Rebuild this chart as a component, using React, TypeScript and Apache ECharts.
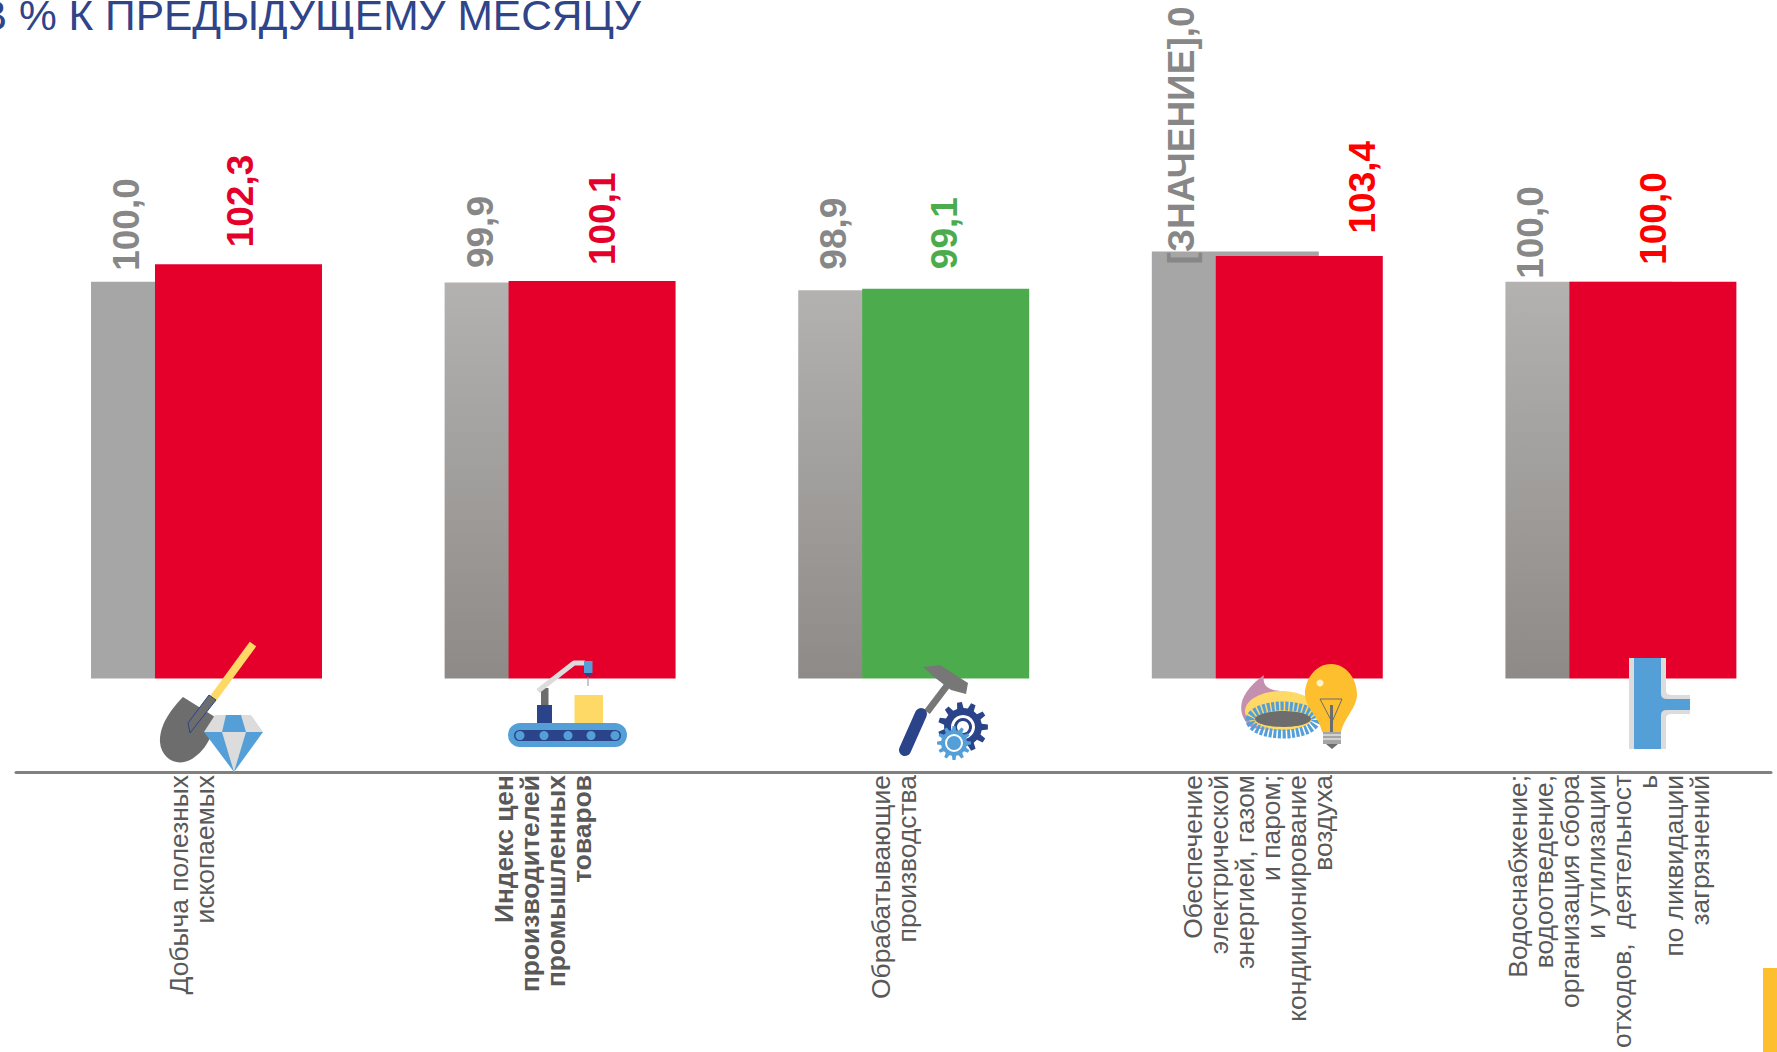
import React, { useEffect, useRef } from "react";
import * as echarts from "echarts";

const categories = [
  "Добыча полезных\nископаемых",
  "Индекс цен\nпроизводителей\nпромышленных\nтоваров",
  "Обрабатывающие\nпроизводства",
  "Обеспечение\nэлектрической\nэнергией, газом\nи паром;\nкондиционирование\nвоздуха",
  "Водоснабжение;\nводоотведение,\nорганизация сбора\nи утилизации\nотходов,  деятельност\nь\nпо ликвидации\nзагрязнений",
];
const previousValues = [100.0, 99.9, 98.9, 104.0, 100.0];
const currentValues = [102.3, 100.1, 99.1, 103.4, 100.0];
const previousLabels = ["100,0", "99,9", "98,9", "[ЗНАЧЕНИЕ],0", "100,0"];
const currentLabels = ["102,3", "100,1", "99,1", "103,4", "100,0"];
const titleText = "В % К ПРЕДЫДУЩЕМУ МЕСЯЦУ";

// screen-space label shifts [right, down]; the label's own offset is given in its rotated frame
const GRAY_OFFSET: number[][] = [[-48.5, -11], [-48, -14.5], [-48.5, -20.5], [-53.5, 13], [-58.5, -3]];
const CUR_OFFSET: number[][] = [[2.5, -17], [10, -16], [-1, -19.5], [63, -22.5], [1, -17]];
const toLocal = (o: number[]) => [-o[1], o[0]];
const CUR_BAR = ["#e4002b", "#e4002b", "#4cac4d", "#e4002b", "#e4002b"];
const CUR_LABEL = ["#e4002b", "#e4002b", "#4cac4d", "#ff0000", "#ff0000"];
const GRADIENT_BAR = [false, true, true, false, true];
const FONT = '"Liberation Sans", Arial, sans-serif';

const NAVY = "#2a4389";
const BLUE = "#559fd9";
const YEL = "#ffd966";
const GREY = "#6d6d6d";
const LIGHT = "#dddcdc";

const bladePath = "M183 697 L215 717 C214 735 205 752 190 760 C176 767 161 758 160 742 C159 725 172 708 183 697 Z";
const flamePath = "M1264 675 C1262 686 1268 690 1280 691 C1295 692 1302 698 1312 705 L1270 730 L1252 728 C1236 715 1236 695 1264 675 Z";
const teePath = "M1629 658 H1666 V691 Q1666 695 1672 695 H1690 V714 H1672 Q1666 714 1666 718 V749 H1629 Z";
const teeInner = "M1634 658 H1661 V694 Q1661 699 1667 699 H1690 V710 H1667 Q1661 710 1661 715 V749 H1634 Z";
const bulbPath = "M1331 664 C1347 664 1357 680 1357 694 C1357 708 1345 716 1341 732 H1322 C1319 716 1305 708 1305 694 C1305 680 1315 664 1331 664 Z";

echarts.graphic.registerShape("blade", echarts.graphic.extendPath(bladePath, {}));
echarts.graphic.registerShape("flame", echarts.graphic.extendPath(flamePath, {}));
echarts.graphic.registerShape("tee", echarts.graphic.extendPath(teePath, {}));
echarts.graphic.registerShape("teeInner", echarts.graphic.extendPath(teeInner, {}));
echarts.graphic.registerShape("bulb", echarts.graphic.extendPath(bulbPath, {}));

function gear(cx: number, cy: number, rOut: number, rIn: number, teeth: number) {
  const pts: number[][] = [];
  for (let i = 0; i < teeth; i++) {
    const step = (Math.PI * 2) / teeth;
    const a = i * step;
    [[-0.3, rIn], [-0.17, rOut], [0.17, rOut], [0.3, rIn]].forEach(([k, r]) => {
      pts.push([cx + r * Math.cos(a + k * step), cy + r * Math.sin(a + k * step)]);
    });
  }
  return pts;
}
const poly = (points: number[][], fill: string, extra: any = {}) => ({ type: "polygon", z: 20, shape: { points }, style: { fill, ...extra } });
const line = (p: number[][], stroke: string, lineWidth: number, cap = "butt") => ({ type: "polyline", z: 20, shape: { points: p }, style: { stroke, lineWidth, fill: "none", lineCap: cap, lineJoin: "round" } });
const rect = (x: number, y: number, w: number, h: number, fill: string, r = 0) => ({ type: "rect", z: 20, shape: { x, y, width: w, height: h, r }, style: { fill } });
const circ = (cx: number, cy: number, r: number, fill: string) => ({ type: "circle", z: 20, shape: { cx, cy, r }, style: { fill } });
const ell = (cx: number, cy: number, rx: number, ry: number, style: any) => ({ type: "ellipse", z: 20, shape: { cx, cy, rx, ry }, style });

const icons: any[] = [
  // shovel and diamond
  line([[253, 644], [212, 700]], YEL, 8),
  { type: "blade", z: 20, x: 0, y: 0, style: { fill: GREY } },
  poly([[209, 695], [216, 700], [190, 733], [188, 723]], GREY, { stroke: NAVY, lineWidth: 1 }),
  poly([[215, 715], [251, 715], [263, 732], [204, 732]], LIGHT),
  poly([[226, 715], [241, 715], [246, 732], [222, 732]], BLUE),
  poly([[204, 732], [263, 732], [234, 772]], BLUE),
  poly([[222, 732], [246, 732], [234, 772]], LIGHT),
  // conveyor
  rect(508, 723, 119, 24, BLUE, 12),
  rect(514, 730, 107, 11, NAVY, 5.5),
  ...[520, 544, 568, 591, 615].map((x) => circ(x, 735.5, 4.5, BLUE)),
  rect(574.5, 695, 28.5, 28, YEL),
  rect(537, 705, 15, 18, NAVY),
  rect(541, 688, 7.5, 17, GREY),
  line([[538, 691], [574, 663], [585, 663]], LIGHT, 5),
  rect(584, 661, 8.5, 12, BLUE),
  poly([[584, 673], [592.5, 673], [588, 677]], NAVY),
  line([[588, 677], [588, 686]], "#909090", 1),
  // hammer and gears
  line([[949, 683], [927, 712]], "#777777", 7),
  line([[921, 714], [905, 750]], NAVY, 12, "round"),
  poly([[923, 667], [940, 665], [968, 683], [966, 694], [951, 690], [934, 677]], "#777777"),
  poly(gear(963, 727, 25, 19, 11), NAVY),
  circ(963, 727, 12, "#ffffff"),
  circ(963, 727, 9, NAVY),
  circ(963, 727, 6, "#ffffff"),
  poly(gear(954, 743, 17, 13, 12), BLUE),
  ell(954, 743, 8, 8, { fill: "none", stroke: "#ffffff", lineWidth: 2 }),
  // burner and bulb
  { type: "flame", z: 20, x: 0, y: 0, style: { fill: "#c58fb0" } },
  ell(1281, 711, 36, 20, { fill: YEL }),
  ell(1283, 720, 33, 14, { fill: "none", stroke: BLUE, lineWidth: 9, lineDash: [3, 1.5] }),
  ell(1283, 719, 28, 8, { fill: GREY }),
  { type: "bulb", z: 20, x: 0, y: 0, style: { fill: "#fdbf2d" } },
  circ(1320, 683, 3.5, "#fff3c4"),
  line([[1320, 699], [1342, 699], [1332, 722], [1320, 699]], GREY, 1),
  rect(1330, 705, 3, 27, GREY),
  rect(1323, 732, 18, 12, "#a5a5a5"),
  line([[1323, 735], [1341, 735]], "#ffffff", 1),
  line([[1323, 739], [1341, 739]], "#ffffff", 1),
  poly([[1326, 744], [1338, 744], [1332, 749]], GREY),
  // pipe
  { type: "tee", z: 20, x: 0, y: 0, style: { fill: LIGHT } },
  { type: "teeInner", z: 20, x: 0, y: 0, style: { fill: BLUE } },
];

export default function App() {
  const ref = useRef<HTMLDivElement>(null);
  useEffect(() => {
    document.body.style.margin = "0";
    document.body.style.overflow = "hidden";
    const chart = echarts.init(ref.current!, undefined, { renderer: "svg" });
    const labelStyle = { show: true, position: "top", distance: 0, rotate: 90, align: "left", verticalAlign: "middle", fontFamily: FONT, fontSize: 37, fontWeight: "bold" };
    chart.setOption({
      animation: false,
      backgroundColor: "#ffffff",
      title: {
        text: titleText,
        right: 1777 - 641,
        top: -6,
        padding: 0,
        textStyle: { fontFamily: FONT, fontSize: 42.5, fontWeight: "normal", color: "#2f4489" },
      },
      grid: [
        { left: 29.7, width: 1768, top: 12, height: 760, outerBoundsMode: "none" },
        { left: 16, width: 1755, top: 12, height: 760, outerBoundsMode: "none" },
      ],
      xAxis: [
        { type: "category", gridIndex: 0, data: categories, axisLine: { show: false }, axisTick: { show: false }, axisLabel: { show: false } },
        {
          type: "category",
          gridIndex: 1,
          z: 12,
          data: categories.map((value, i) => ({
            value,
            textStyle: { fontWeight: i === 1 ? "bold" : "normal" },
          })),
          axisLine: { lineStyle: { color: "#808080", width: 3 } },
          axisTick: { show: false },
          axisLabel: {
            rotate: 90,
            interval: 0,
            margin: 3,
            fontFamily: FONT,
            fontSize: 26.4,
            lineHeight: 26,
            color: "#595959",
            align: "right",
            verticalAlign: "middle",
            // the two longest labels sit half a line to the right of their slot
            formatter: (value: string, i: number) => (i >= 3 ? "\n" + value : value),
          },
        },
      ],
      yAxis: [
        { type: "value", gridIndex: 0, min: 35.5, max: 135.5, show: false },
        { type: "value", gridIndex: 1, min: 0, max: 1, show: false },
      ],
      series: [
        {
          type: "bar",
          xAxisIndex: 0,
          yAxisIndex: 0,
          barWidth: 167,
          barGap: "-61.7%",
          data: previousValues.map((value, i) => ({
            value,
            itemStyle: {
              color: GRADIENT_BAR[i]
                ? new echarts.graphic.LinearGradient(0, 0, 0, 1, [
                    { offset: 0, color: "#b3b2b0" },
                    { offset: 0.81, color: "#8e8a88" },
                    { offset: 1, color: "#8e8a88" },
                  ])
                : "#a6a6a6",
            },
            label: { ...labelStyle, formatter: previousLabels[i], color: "#878787", offset: toLocal(GRAY_OFFSET[i]) },
          })),
        },
        {
          type: "bar",
          xAxisIndex: 0,
          yAxisIndex: 0,
          barWidth: 167,
          barGap: "-61.7%",
          data: currentValues.map((value, i) => ({
            value,
            itemStyle: { color: CUR_BAR[i] },
            label: { ...labelStyle, formatter: currentLabels[i], color: CUR_LABEL[i], offset: toLocal(CUR_OFFSET[i]) },
          })),
        },
      ],
      graphic: {
        elements: [
          { type: "rect", z: 10, silent: true, shape: { x: 0, y: 678.5, width: 1777, height: 94 }, style: { fill: "#ffffff" } },
          ...icons,
          { type: "rect", z: 20, shape: { x: 1763, y: 968, width: 14, height: 84 }, style: { fill: "#fdbf2d" } },
        ],
      },
    });
    return () => chart.dispose();
  }, []);
  return <div ref={ref} style={{ position: "absolute", left: 0, top: 0, width: 1777, height: 1052 }} />;
}
